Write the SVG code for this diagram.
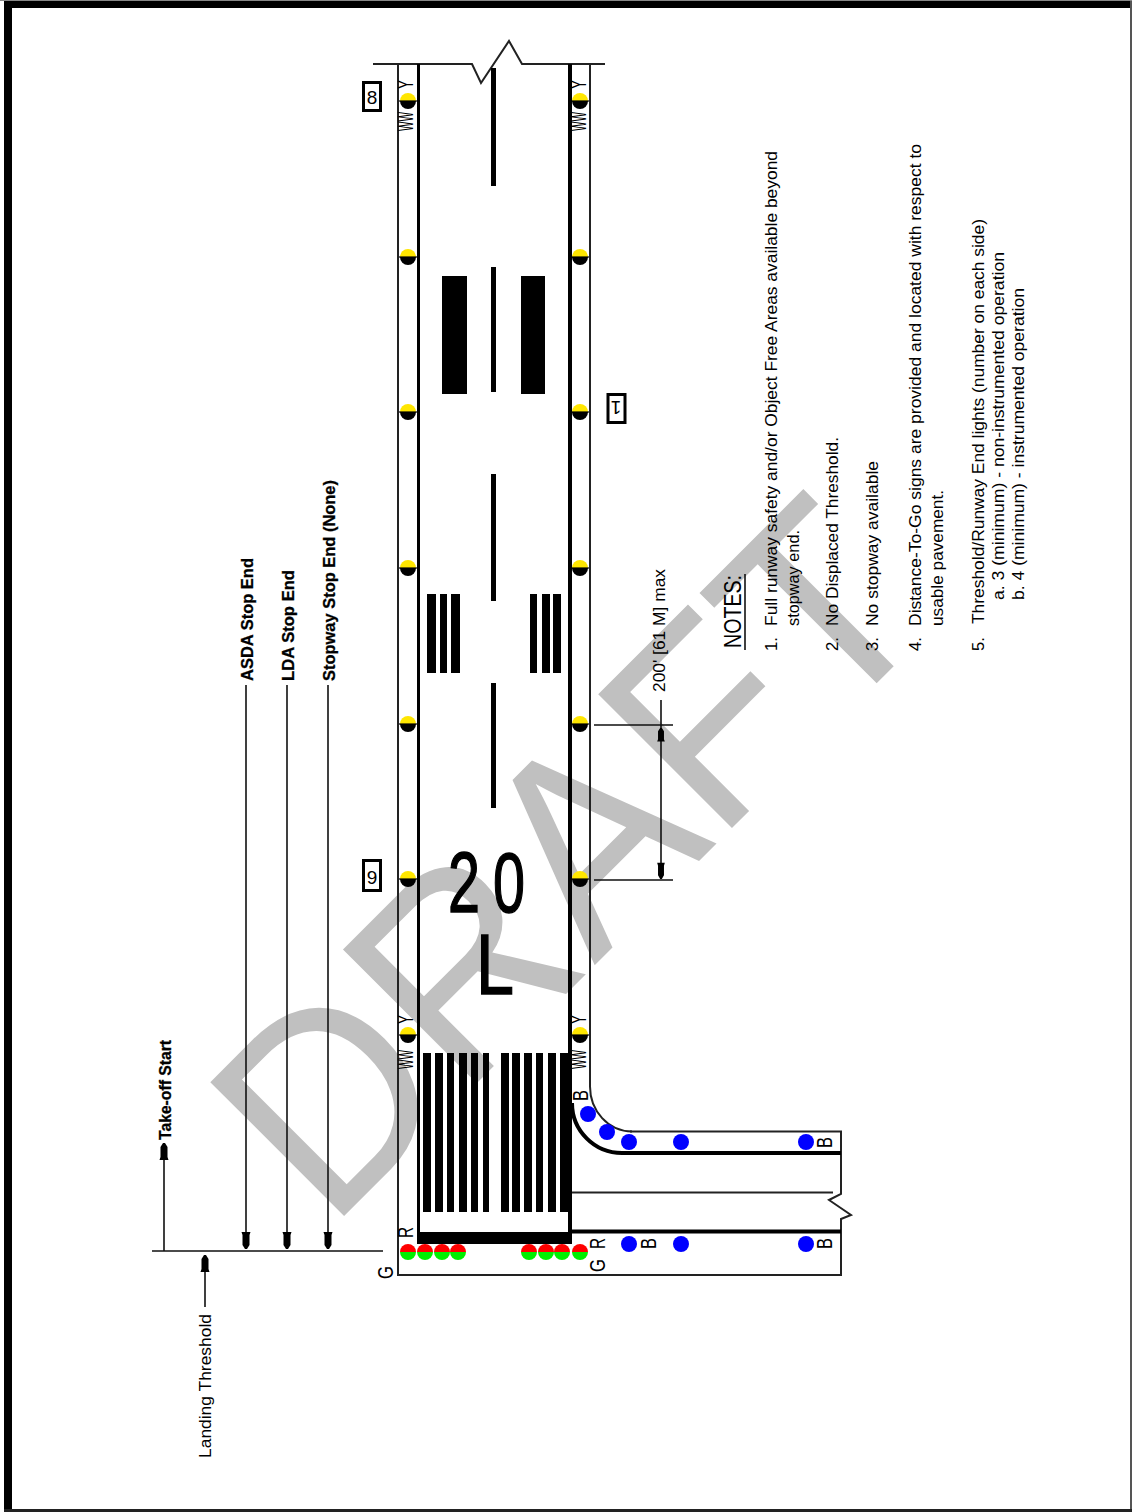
<svg xmlns="http://www.w3.org/2000/svg" xmlns:xlink="http://www.w3.org/1999/xlink" width="1132" height="1512" viewBox="0 0 1132 1512">
<style>
text{font-family:"Liberation Sans",Arial,sans-serif;fill:#000}
.n{font-size:16.6px}
.b{font-size:16.8px;font-weight:bold;stroke:#000;stroke-width:.3}
.l{font-size:22px}
.wm{font-size:275px;fill:#c0c0c0}
.big{font-size:86px;stroke:#000;stroke-width:1.5}
.thin{fill:none;stroke:#222;stroke-width:2}
.dim{fill:none;stroke:#111;stroke-width:1.6}
.med{fill:none;stroke:#000;stroke-width:3}
.thick{fill:none;stroke:#000;stroke-width:4}
.k{fill:#000}
.sign{fill:#fff;stroke:#000;stroke-width:3}
.blue{fill:#0000ff}
</style>
<defs>
<path id="ah" d="M-4.500,-17H4.500L3.500,-14V-4L1,0H-1L-3.500,-4V-14Z" fill="#000"/>
<g id="lamp"><path d="M-8,0A8,8 0 0 1 8,0Z" fill="#ffe600"/><path d="M-8,0A8,8 0 0 0 8,0Z" fill="#000"/><path d="M-9,0H9" stroke="#000" stroke-width="1.2"/></g>
<g id="rg"><path d="M-8,0A8,8 0 0 1 8,0Z" fill="#ff0000"/><path d="M-8,0A8,8 0 0 0 8,0Z" fill="#00f000"/></g>
</defs>
<rect width="1132" height="1512" fill="#fff"/>
<g id="frame">
<rect x="0" y="0" width="1132" height="1" fill="#888"/>
<rect x="4" y="1" width="1128" height="7" fill="#000"/>
<rect x="4" y="1" width="8" height="1511" fill="#000"/>
<rect x="1130" y="1" width="2" height="1511" fill="#555"/>
<rect x="4" y="1509" width="1128" height="3" fill="#222"/>
</g>
<g id="watermark"><text class="wm" transform="translate(329,1231) rotate(-45)" textLength="866" lengthAdjust="spacingAndGlyphs">DRAFT</text></g>
<g id="connectors">
<path class="thin" d="M373,64H472L481,83L509,41L522,64H605"/>
<path class="thin" d="M398,64V1275H841V1219L851,1215L829,1200L841,1194V1131.500H630"/>
<path class="thin" d="M590,64V1086A42,45 0 0 0 632,1131.500"/>
<path class="thin" d="M572,1192.500H833"/>
<path class="med" d="M418.500,64V1240"/>
<path class="thick" d="M570,64V1240"/>
<path class="thick" d="M572,1103A50,50 0 0 0 622,1153H841"/>
<path class="thick" d="M572,1231.500H841"/>
<path class="dim" d="M152,1251H383M164,1251V1150M205,1307V1262M246,685V1245M287,685V1245M328,685V1245"/>
<use xlink:href="#ah" transform="translate(164,1143) rotate(180)"/>
<use xlink:href="#ah" transform="translate(205,1255) rotate(180)"/>
<use xlink:href="#ah" transform="translate(246,1249)"/>
<use xlink:href="#ah" transform="translate(287,1249)"/>
<use xlink:href="#ah" transform="translate(328,1249)"/>
<path class="dim" d="M594,725H673M594,880H673M661,700V875"/>
<use xlink:href="#ah" transform="translate(661,728) rotate(180) scale(.85,.8)"/>
<use xlink:href="#ah" transform="translate(661,879) scale(.85,.95)"/>
</g>
<g id="runway-markings" class="k">
<rect x="491" y="68" width="5" height="118"/>
<rect x="491" y="267" width="5" height="125"/>
<rect x="491" y="474" width="5" height="127"/>
<rect x="491" y="683" width="5" height="125"/>
<rect x="442" y="276" width="25" height="118"/>
<rect x="521" y="276" width="24" height="118"/>
<rect x="427" y="594" width="9" height="79"/><rect x="440" y="594" width="7" height="79"/><rect x="451" y="594" width="9" height="79"/>
<rect x="530" y="594" width="7" height="79"/><rect x="542" y="594" width="8" height="79"/><rect x="553" y="594" width="8" height="79"/>
<rect x="423" y="1053" width="8" height="159"/><rect x="435" y="1053" width="8" height="159"/><rect x="447" y="1053" width="7" height="159"/><rect x="459" y="1053" width="8" height="159"/><rect x="471" y="1053" width="7" height="159"/><rect x="483" y="1053" width="6" height="159"/>
<rect x="501" y="1053" width="8" height="159"/><rect x="512" y="1053" width="8" height="159"/><rect x="524" y="1053" width="8" height="159"/><rect x="536" y="1053" width="7" height="159"/><rect x="548" y="1053" width="8" height="159"/><rect x="560" y="1053" width="12" height="159"/>
<rect x="417" y="1232" width="155" height="12"/>
</g>
<g id="runway-designation">
<text class="big" x="448" y="912" textLength="32" lengthAdjust="spacingAndGlyphs">2</text>
<text class="big" x="493" y="912" textLength="32" lengthAdjust="spacingAndGlyphs">0</text>
<text class="big" x="476" y="994" textLength="38" lengthAdjust="spacingAndGlyphs">L</text>
</g>
<g id="edge-lights">
<use xlink:href="#lamp" x="408" y="101"/><use xlink:href="#lamp" x="408" y="257"/><use xlink:href="#lamp" x="408" y="412"/><use xlink:href="#lamp" x="408" y="568"/><use xlink:href="#lamp" x="408" y="724"/><use xlink:href="#lamp" x="408" y="879"/><use xlink:href="#lamp" x="408" y="1035"/>
<use xlink:href="#lamp" x="580" y="101"/><use xlink:href="#lamp" x="580" y="257"/><use xlink:href="#lamp" x="580" y="412"/><use xlink:href="#lamp" x="580" y="568"/><use xlink:href="#lamp" x="580" y="724"/><use xlink:href="#lamp" x="580" y="879"/><use xlink:href="#lamp" x="580" y="1035"/>
</g>
<g id="threshold-lights">
<use xlink:href="#rg" x="408" y="1252"/><use xlink:href="#rg" x="425" y="1252"/><use xlink:href="#rg" x="442" y="1252"/><use xlink:href="#rg" x="458" y="1252"/>
<use xlink:href="#rg" x="529" y="1252"/><use xlink:href="#rg" x="546" y="1252"/><use xlink:href="#rg" x="562" y="1252"/><use xlink:href="#rg" x="580" y="1252"/>
</g>
<g id="taxiway-lights" class="blue">
<circle cx="588" cy="1114" r="8"/><circle cx="607" cy="1132" r="8"/><circle cx="629" cy="1142" r="8"/><circle cx="681" cy="1142" r="8"/><circle cx="806" cy="1142" r="8"/>
<circle cx="629" cy="1244" r="8"/><circle cx="681" cy="1244" r="8"/><circle cx="806" cy="1244" r="8"/>
</g>
<g id="light-letters">
<text class="l" transform="translate(413,89) rotate(-90)" textLength="9" lengthAdjust="spacingAndGlyphs">Y</text>
<text class="l" transform="translate(413,131) rotate(-90)" textLength="19" lengthAdjust="spacingAndGlyphs">WW</text>
<text class="l" transform="translate(586,89) rotate(-90)" textLength="9" lengthAdjust="spacingAndGlyphs">Y</text>
<text class="l" transform="translate(586,131) rotate(-90)" textLength="19" lengthAdjust="spacingAndGlyphs">WW</text>
<text class="l" transform="translate(413,1024) rotate(-90)" textLength="9" lengthAdjust="spacingAndGlyphs">Y</text>
<text class="l" transform="translate(413,1069) rotate(-90)" textLength="19" lengthAdjust="spacingAndGlyphs">WW</text>
<text class="l" transform="translate(586,1024) rotate(-90)" textLength="9" lengthAdjust="spacingAndGlyphs">Y</text>
<text class="l" transform="translate(586,1069) rotate(-90)" textLength="19" lengthAdjust="spacingAndGlyphs">WW</text>
<text class="l" transform="translate(413,1238) rotate(-90)" textLength="11" lengthAdjust="spacingAndGlyphs">R</text>
<text class="l" transform="translate(393,1279) rotate(-90)" textLength="13" lengthAdjust="spacingAndGlyphs">G</text>
<text class="l" transform="translate(605,1249) rotate(-90)" textLength="11" lengthAdjust="spacingAndGlyphs">R</text>
<text class="l" transform="translate(605,1272) rotate(-90)" textLength="13" lengthAdjust="spacingAndGlyphs">G</text>
<text class="l" transform="translate(588,1101) rotate(-90)" textLength="11" lengthAdjust="spacingAndGlyphs">B</text>
<text class="l" transform="translate(656,1249) rotate(-90)" textLength="11" lengthAdjust="spacingAndGlyphs">B</text>
<text class="l" transform="translate(832,1148) rotate(-90)" textLength="11" lengthAdjust="spacingAndGlyphs">B</text>
<text class="l" transform="translate(832,1249) rotate(-90)" textLength="11" lengthAdjust="spacingAndGlyphs">B</text>
</g>
<g id="sign-8"><rect class="sign" x="363.500" y="82.500" width="17" height="28"/><text x="372" y="104" font-size="19" text-anchor="middle">8</text></g>
<g id="sign-9"><rect class="sign" x="363.500" y="860.500" width="17" height="30"/><text x="372" y="884" font-size="19" text-anchor="middle">9</text></g>
<g id="sign-1"><rect class="sign" x="608" y="394.500" width="17" height="28"/><text font-size="19" text-anchor="middle" transform="translate(616,401) rotate(180)">1</text></g>
<g id="labels">
<text class="b" transform="translate(171,1140) rotate(-90)" textLength="100" lengthAdjust="spacingAndGlyphs">Take-off Start</text>
<text class="n" transform="translate(211,1458) rotate(-90)" textLength="144" lengthAdjust="spacingAndGlyphs">Landing Threshold</text>
<text class="b" transform="translate(253,681) rotate(-90)" textLength="123" lengthAdjust="spacingAndGlyphs">ASDA Stop End</text>
<text class="b" transform="translate(294,681) rotate(-90)" textLength="111" lengthAdjust="spacingAndGlyphs">LDA Stop End</text>
<text class="b" transform="translate(335,681) rotate(-90)" textLength="201" lengthAdjust="spacingAndGlyphs">Stopway Stop End (None)</text>
<text class="n" transform="translate(665,692) rotate(-90)" textLength="123" lengthAdjust="spacingAndGlyphs">200' [61 M] max</text>
</g>
<g id="notes">
<text font-size="23" transform="translate(741,648) rotate(-90)" textLength="73" lengthAdjust="spacingAndGlyphs">NOTES:</text>
<path class="dim" d="M745,650V574"/>
<text class="n" transform="translate(777,651) rotate(-90)">1.</text>
<text class="n" transform="translate(777,626) rotate(-90)" textLength="475" lengthAdjust="spacingAndGlyphs">Full runway safety and/or Object Free Areas available beyond</text>
<text class="n" transform="translate(799,626) rotate(-90)" textLength="96" lengthAdjust="spacingAndGlyphs">stopway end.</text>
<text class="n" transform="translate(838,651) rotate(-90)">2.</text>
<text class="n" transform="translate(838,626) rotate(-90)" textLength="189" lengthAdjust="spacingAndGlyphs">No Displaced Threshold.</text>
<text class="n" transform="translate(878,651) rotate(-90)">3.</text>
<text class="n" transform="translate(878,626) rotate(-90)" textLength="165" lengthAdjust="spacingAndGlyphs">No stopway available</text>
<text class="n" transform="translate(921,651) rotate(-90)">4.</text>
<text class="n" transform="translate(921,626) rotate(-90)" textLength="482" lengthAdjust="spacingAndGlyphs">Distance-To-Go signs are provided and located with respect to</text>
<text class="n" transform="translate(943,626) rotate(-90)" textLength="136" lengthAdjust="spacingAndGlyphs">usable pavement.</text>
<text class="n" transform="translate(984,651) rotate(-90)">5.</text>
<text class="n" transform="translate(984,624) rotate(-90)" textLength="405" lengthAdjust="spacingAndGlyphs">Threshold/Runway End lights (number on each side)</text>
<text class="n" transform="translate(1004,600) rotate(-90)" textLength="348" lengthAdjust="spacingAndGlyphs">a. 3 (minimum) - non-instrumented operation</text>
<text class="n" transform="translate(1024,600) rotate(-90)" textLength="312" lengthAdjust="spacingAndGlyphs">b. 4 (minimum) - instrumented operation</text>
</g>
</svg>
